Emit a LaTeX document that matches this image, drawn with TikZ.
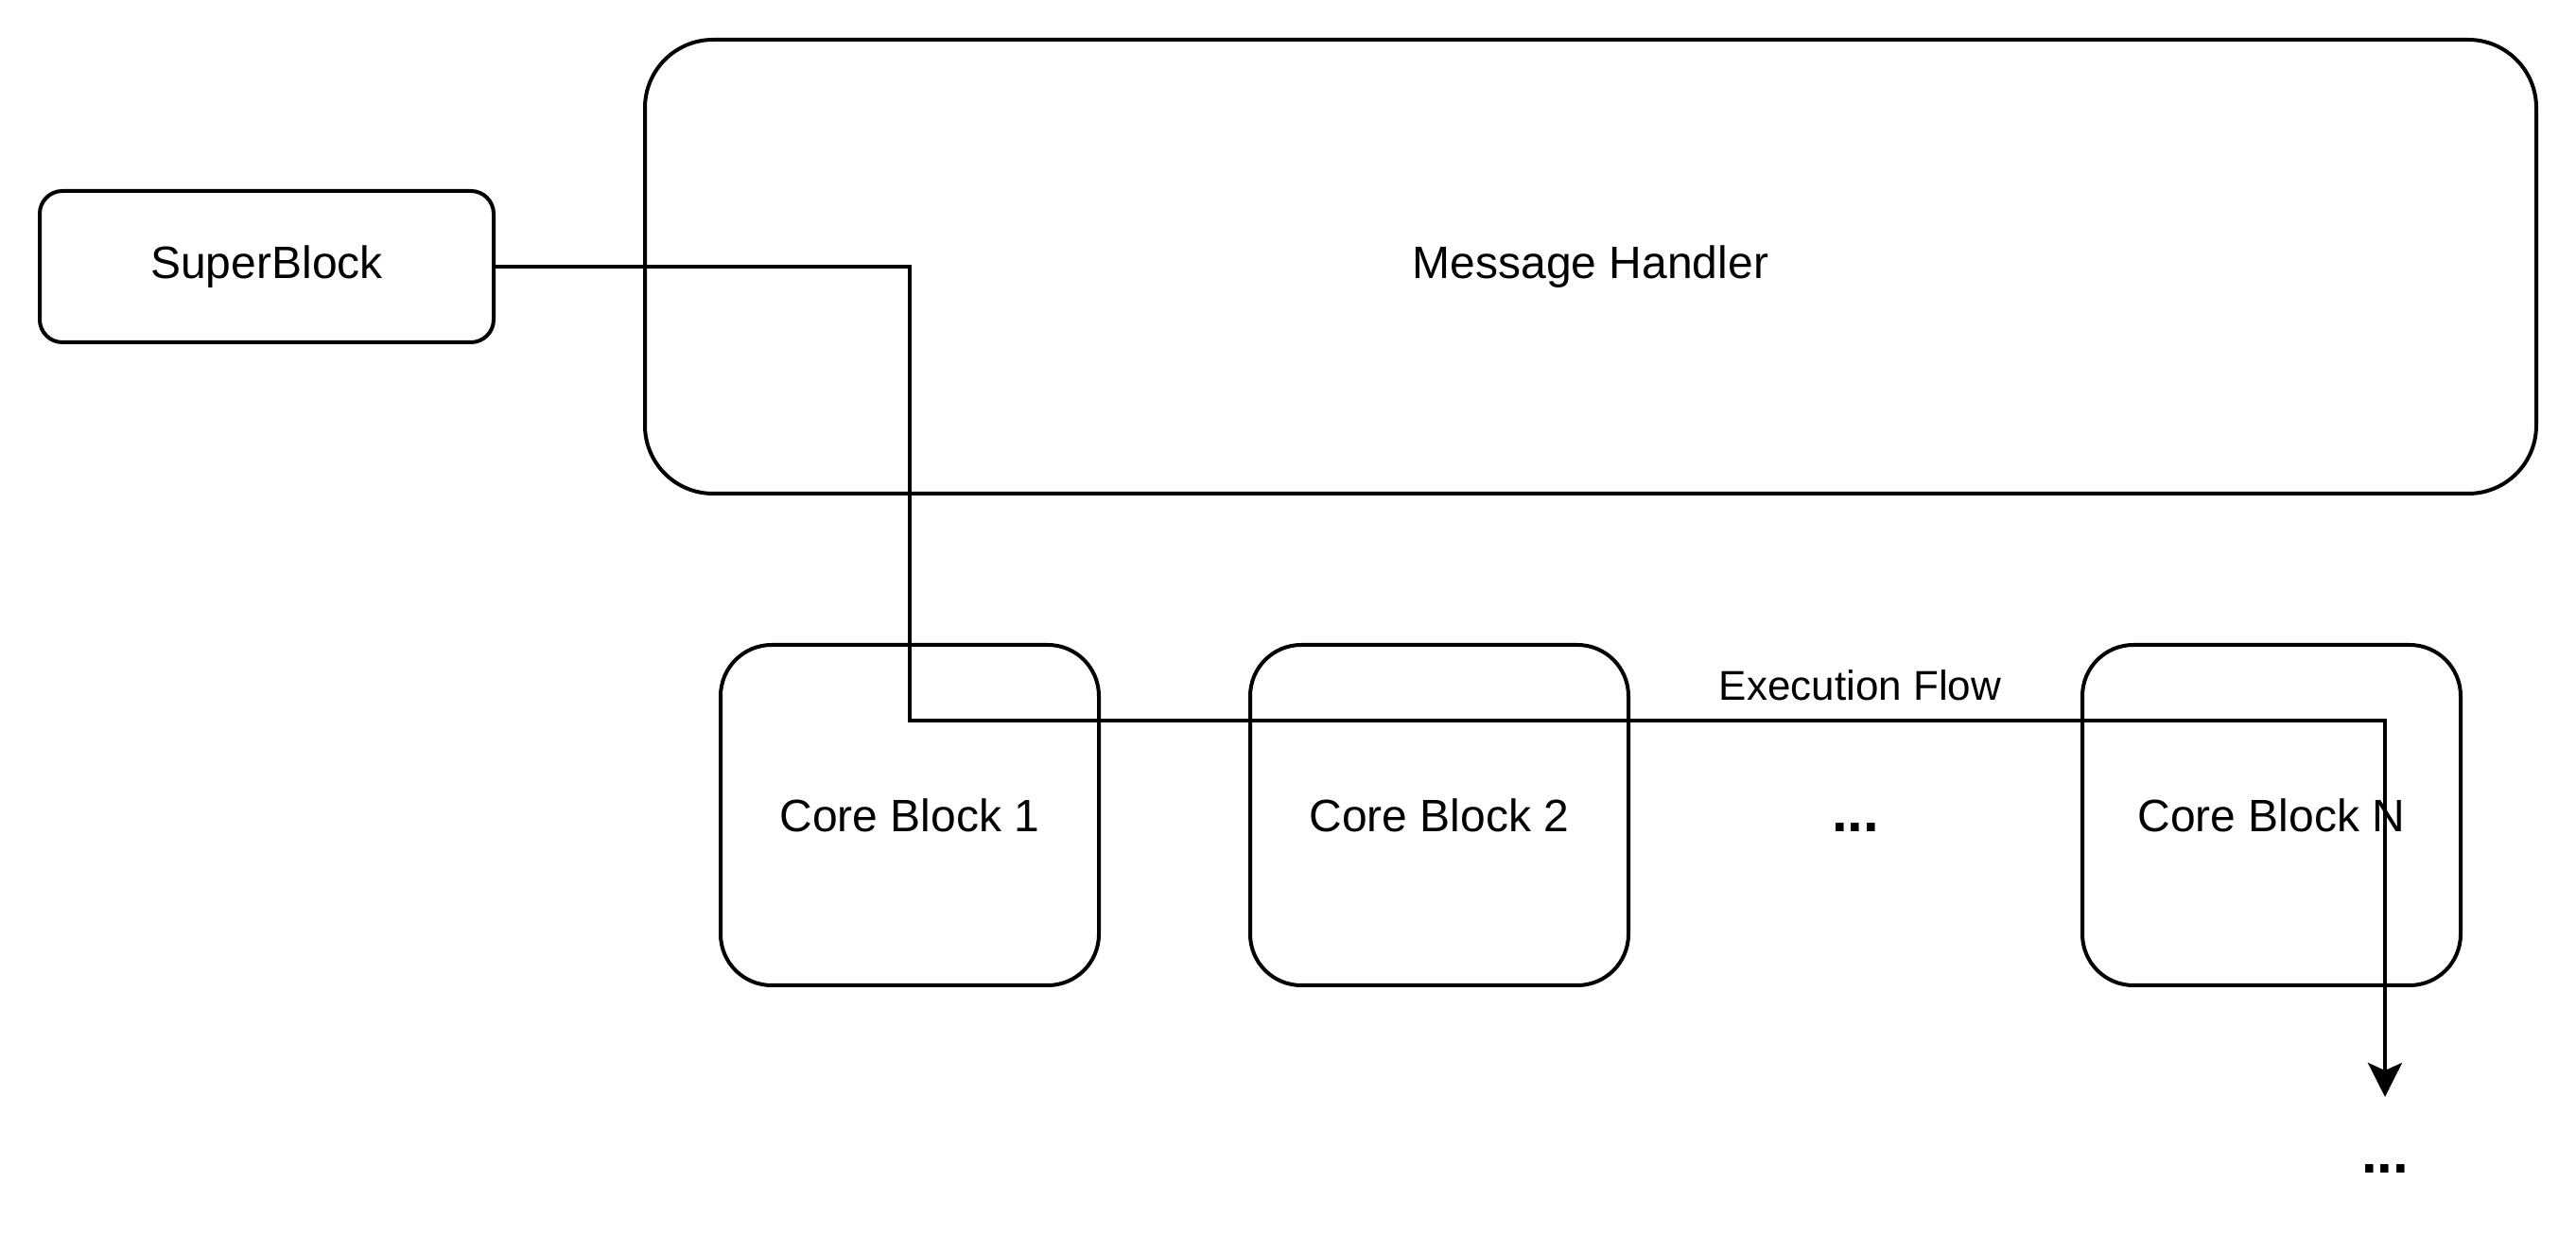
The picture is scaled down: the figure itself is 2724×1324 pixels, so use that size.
\documentclass[tikz,border=0pt]{standalone}
\usepackage{fontspec}
\setmainfont{Liberation Sans}
\usetikzlibrary{arrows.meta}
\begin{document}
\begin{tikzpicture}[x=0.25pt,y=-0.25pt,
  box/.style={draw=black, line width=1pt, inner sep=0pt, font=\fontsize{12}{14}\selectfont},
  flow/.style={draw=black, line width=1pt, -{Stealth[length=9pt,width=9pt,inset=2pt]}},
  dots/.style={font=\fontsize{15}{18}\selectfont\bfseries, inner sep=0pt}]
\useasboundingbox (0,0) rectangle (2724,1324);
\node[box, rounded corners=6pt, minimum width=120pt, minimum height=40pt] (sb) at (282,282) {SuperBlock};
\node[box, rounded corners=18pt, minimum width=500pt, minimum height=120pt] (mh) at (1682,282) {Message Handler};
\node[box, rounded corners=13.5pt, minimum width=100pt, minimum height=90pt] (c1) at (962,862) {Core Block 1};
\node[box, rounded corners=13.5pt, minimum width=100pt, minimum height=90pt] (c2) at (1522,862) {Core Block 2};
\node[box, rounded corners=13.5pt, minimum width=100pt, minimum height=90pt] (cn) at (2402,862) {Core Block N};
\node[dots, anchor=base] (d1) at (1962,880) {...};
\node[dots, anchor=base] (d2) at (2522,1241) {...};
\node[font=\fontsize{11}{13}\selectfont, inner sep=0pt] (lbl) at (1967,725) {Execution Flow};
\coordinate (tip) at (2522,1160);
\draw[flow] (sb.east) -- (962,282) -- (962,762) -- (2522,762) -- (tip);
\end{tikzpicture}
\end{document}
